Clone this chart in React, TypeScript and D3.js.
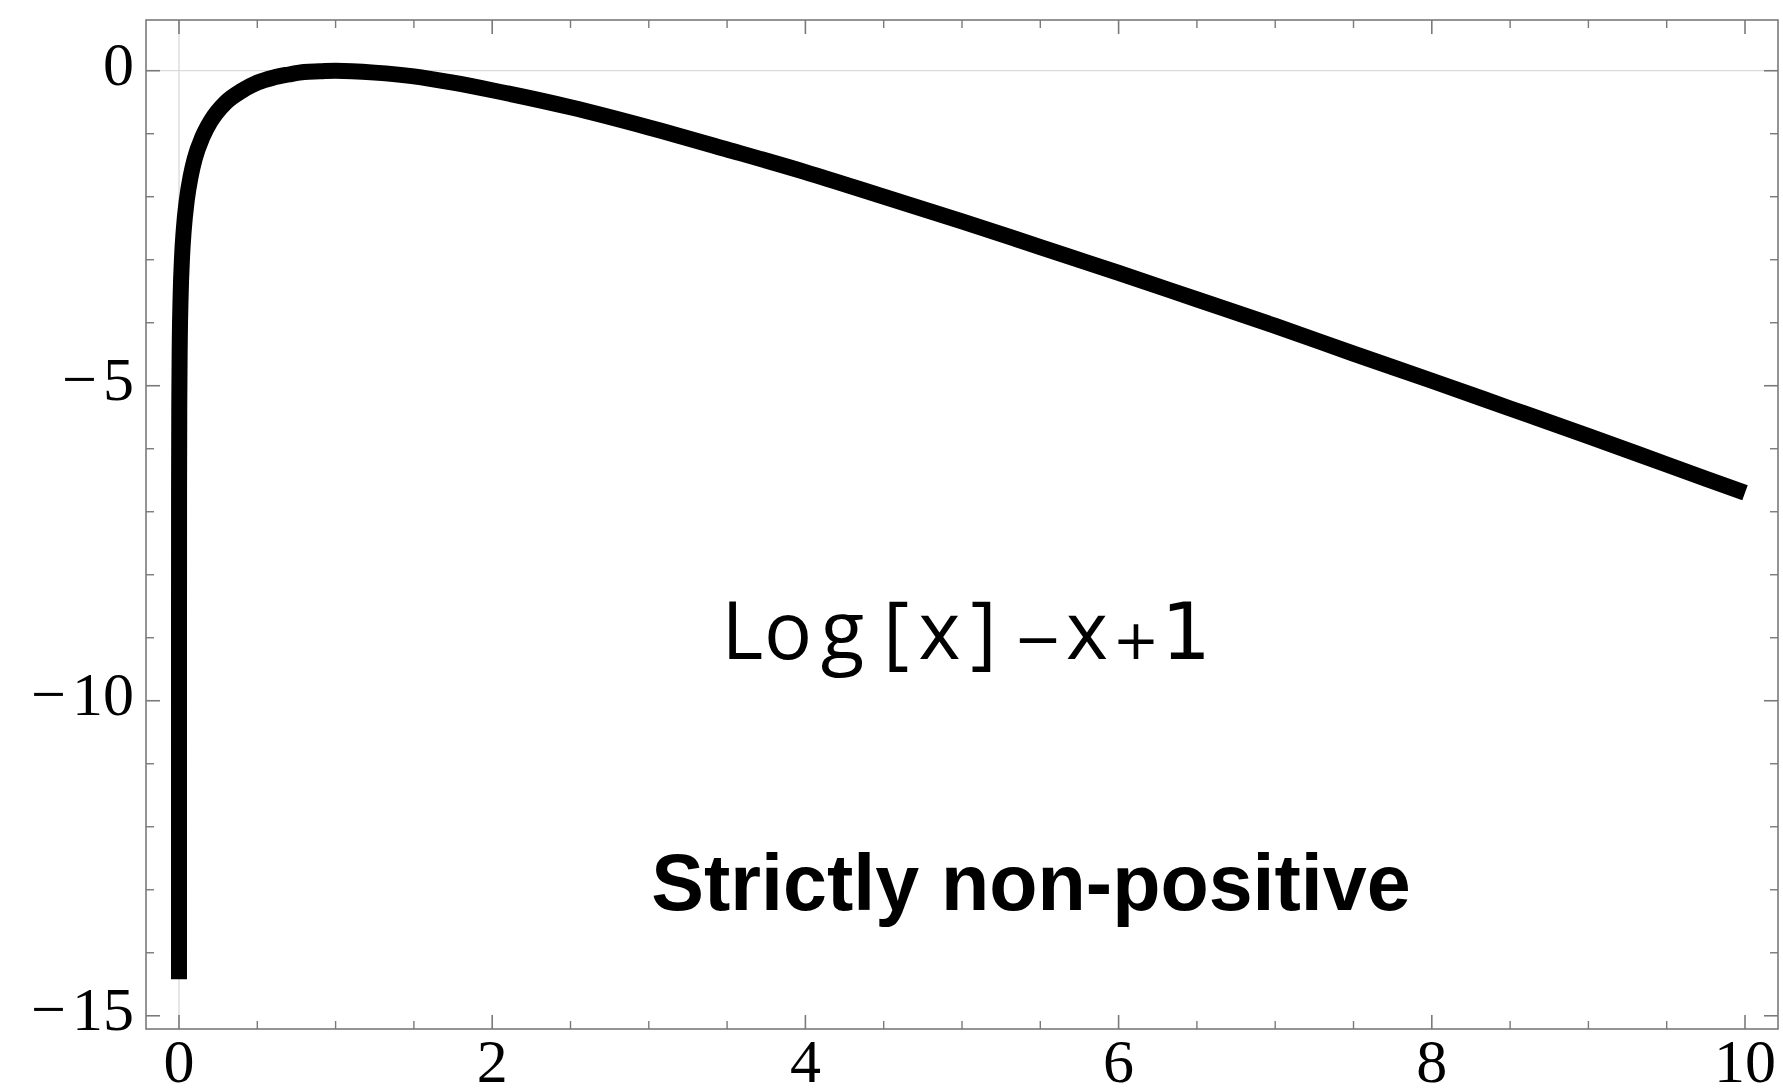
import React from "react";
import * as d3 from "d3";

// Curve samples (x, y)
const curveX = [0.0000002, 0.00005, 0.0005, 0.002, 0.005, 0.01, 0.02, 0.03, 0.05, 0.075, 0.1, 0.15, 0.2, 0.3, 0.4, 0.5, 0.6, 0.7, 0.8, 0.9, 1.0, 1.25, 1.5, 1.75, 2, 2.5, 3, 3.5, 4, 4.5, 5, 5.5, 6, 6.5, 7, 7.5, 8, 8.5, 9, 9.5, 10];
const curveY = [-14.42, -8.9, -6.6, -5.22, -4.3, -3.62, -2.93, -2.54, -2.05, -1.67, -1.4, -1.05, -0.81, -0.5, -0.32, -0.19, -0.11, -0.06, -0.02, -0.01, 0, -0.03, -0.09, -0.19, -0.31, -0.58, -0.9, -1.25, -1.61, -2.0, -2.39, -2.8, -3.21, -3.63, -4.05, -4.49, -4.92, -5.36, -5.8, -6.25, -6.7];

const xMajorTicks = [0, 2, 4, 6, 8, 10];
const xTickLabels = ["0", "2", "4", "6", "8", "10"];
const xMinorTicks = [0.5, 1, 1.5, 2.5, 3, 3.5, 4.5, 5, 5.5, 6.5, 7, 7.5, 8.5, 9, 9.5];
const yMajorTicks = [0, -5, -10, -15];
const yTickLabels = ["0", "5", "10", "15"];
const yTickSigns = ["", "\u2212", "\u2212", "\u2212"];
const yMinorTicks = [-1, -2, -3, -4, -6, -7, -8, -9, -11, -12, -13, -14];

const formulaGlyphs = ["L", "o", "g", "[", "x", "]", "\u2212", "x", "+", "1"];
const annotation = "Strictly non-positive";

const W = 1783;
const H = 1090;
const left = 146, right = 1778, top = 20, bottom = 1029;

export default function App() {
  const x = d3.scaleLinear().domain([-0.2107, 10.2107]).range([left, right]);
  const y = d3.scaleLinear().domain([0.805, -15.21]).range([top, bottom]);

  const pts: [number, number][] = curveX.map((v, i) => [v, curveY[i]]);
  const line = d3
    .line<[number, number]>()
    .x((d) => x(d[0]))
    .y((d) => y(d[1]))
    .curve(d3.curveMonotoneX);

  const frameColor = "#7a7a7a";
  const major = 14;
  const minor = 8;

  const sans = "'Open Sans', 'Noto Sans', sans-serif";
  const dj = "'DejaVu Sans', sans-serif";
  // glyph centers for the formula label
  const glyphCenters = [742.5, 788, 842.5, 896, 939.5, 983.5, 1038, 1087, 1136, 1186];
  const glyphSizes = [80, 80, 80, 80, 80, 80, 58, 80, 56, 78];
  const glyphFonts = [sans, sans, sans, sans, sans, sans, dj, sans, dj, dj];

  return (
    <svg
      width={W}
      height={H}
      style={{ position: "absolute", left: 0, top: 0, background: "#fff" }}
    >
      <rect x={0} y={0} width={W} height={H} fill="#fff" />
      {/* axes lines at zero */}
      <line x1={left} x2={right} y1={y(0)} y2={y(0)} stroke="#d9d9d9" strokeWidth={1.3} />
      <line x1={x(0)} x2={x(0)} y1={top} y2={bottom} stroke="#d9d9d9" strokeWidth={1.3} />

      {/* curve */}
      <path
        d={line(pts) || ""}
        fill="none"
        stroke="#000"
        strokeWidth={16}
        strokeLinejoin="round"
        strokeLinecap="butt"
      />

      {/* frame */}
      <rect
        x={left}
        y={top}
        width={right - left}
        height={bottom - top}
        fill="none"
        stroke={frameColor}
        strokeWidth={1.6}
      />

      {/* x ticks bottom & top */}
      {xMajorTicks.map((t) => (
        <g key={"xM" + t}>
          <line x1={x(t)} x2={x(t)} y1={bottom} y2={bottom - major} stroke={frameColor} strokeWidth={1.6} />
          <line x1={x(t)} x2={x(t)} y1={top} y2={top + major} stroke={frameColor} strokeWidth={1.6} />
        </g>
      ))}
      {xMinorTicks.map((t) => (
        <g key={"xm" + t}>
          <line x1={x(t)} x2={x(t)} y1={bottom} y2={bottom - minor} stroke={frameColor} strokeWidth={1.4} />
          <line x1={x(t)} x2={x(t)} y1={top} y2={top + minor} stroke={frameColor} strokeWidth={1.4} />
        </g>
      ))}
      {/* y ticks left & right */}
      {yMajorTicks.map((t) => (
        <g key={"yM" + t}>
          <line x1={left} x2={left + major} y1={y(t)} y2={y(t)} stroke={frameColor} strokeWidth={1.6} />
          <line x1={right} x2={right - major} y1={y(t)} y2={y(t)} stroke={frameColor} strokeWidth={1.6} />
        </g>
      ))}
      {yMinorTicks.map((t) => (
        <g key={"ym" + t}>
          <line x1={left} x2={left + minor} y1={y(t)} y2={y(t)} stroke={frameColor} strokeWidth={1.4} />
          <line x1={right} x2={right - minor} y1={y(t)} y2={y(t)} stroke={frameColor} strokeWidth={1.4} />
        </g>
      ))}

      {/* tick labels */}
      <g fontFamily="'Liberation Serif', 'DejaVu Serif', serif" fontSize={62} fill="#000">
        {xMajorTicks.map((t, i) => (
          <text key={"xl" + t} x={x(t)} y={1082} textAnchor="middle">
            {xTickLabels[i]}
          </text>
        ))}
        {yMajorTicks.map((t, i) => (
          <text key={"yl" + t} x={134} y={y(t) + 14.3} textAnchor="end">
            {yTickSigns[i] ? <tspan>{yTickSigns[i]}</tspan> : null}
            <tspan dx={yTickSigns[i] ? 6 : 0}>{yTickLabels[i]}</tspan>
          </text>
        ))}
      </g>

      {/* formula label */}
      <text fill="#000" textAnchor="middle">
        {formulaGlyphs.map((g, i) => (
          <tspan
            key={"f" + i}
            x={glyphCenters[i]}
            y={659}
            fontSize={glyphSizes[i]}
            fontFamily={glyphFonts[i]}
          >
            {g}
          </tspan>
        ))}
      </text>

      {/* annotation */}
      <text
        x={1031}
        y={910}
        textAnchor="middle"
        fontFamily="'Liberation Sans', Arial, sans-serif"
        fontWeight="bold"
        fontSize={79}
        fill="#000"
      >
        {annotation}
      </text>
    </svg>
  );
}
